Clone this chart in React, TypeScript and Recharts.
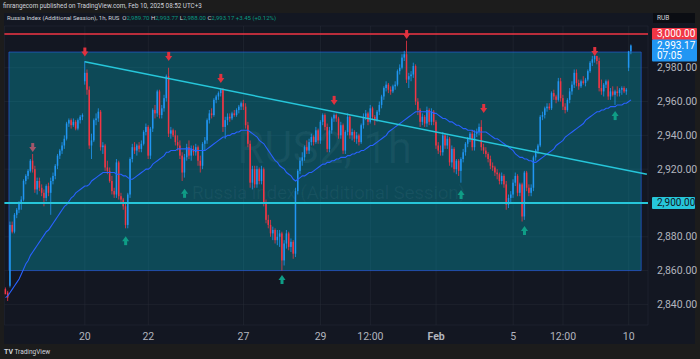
import React from "react";
import {
  ComposedChart,
  Bar,
  Line,
  XAxis,
  YAxis,
  CartesianGrid,
  ReferenceLine,
  ReferenceArea,
  ReferenceDot,
} from "recharts";

// [open, high, low, close, moving average] per 1h bar
type Candle = [number, number, number, number, number];

const jan16_17: Candle[] = [
  [2849, 2850, 2846, 2846, 2844], [2847, 2848, 2842, 2844, 2845], [2851, 2889, 2850, 2887, 2847],
  [2887, 2889, 2882, 2883, 2849], [2883, 2894, 2882, 2893, 2851], [2893, 2897, 2891, 2896, 2853],
  [2896, 2901, 2894, 2900, 2855], [2900, 2904, 2896, 2902, 2858], [2902, 2914, 2901, 2913, 2861],
  [2913, 2917, 2911, 2916, 2864], [2916, 2920, 2914, 2919, 2866], [2919, 2926, 2918, 2925, 2869],
  [2925, 2929, 2918, 2920, 2871], [2920, 2922, 2906, 2908, 2873], [2908, 2915, 2905, 2913, 2875],
  [2913, 2915, 2907, 2909, 2877], [2909, 2911, 2904, 2906, 2879], [2906, 2908, 2898, 2903, 2881],
  [2903, 2911, 2901, 2910, 2883], [2910, 2912, 2904, 2906, 2884], [2906, 2915, 2893, 2913, 2886],
  [2913, 2918, 2911, 2916, 2888], [2916, 2923, 2914, 2922, 2890], [2922, 2929, 2920, 2928, 2892],
  [2928, 2932, 2926, 2931, 2894], [2931, 2936, 2929, 2934, 2896], [2934, 2940, 2932, 2938, 2898],
  [2938, 2948, 2937, 2947, 2899], [2947, 2950, 2945, 2949, 2901], [2949, 2950, 2944, 2946, 2903],
  [2946, 2950, 2945, 2948, 2904], [2948, 2949, 2943, 2944, 2906], [2944, 2950, 2943, 2949, 2907],
  [2949, 2952, 2947, 2951, 2908], [2951, 2953, 2949, 2952, 2909],
];

const jan20: Candle[] = [
  [2972, 2984, 2970, 2977, 2910], [2977, 2979, 2964, 2967, 2910], [2967, 2969, 2932, 2934, 2911],
  [2934, 2941, 2926, 2937, 2913], [2937, 2950, 2936, 2949, 2914], [2949, 2953, 2946, 2950, 2915],
  [2950, 2956, 2948, 2954, 2916], [2954, 2955, 2931, 2933, 2917], [2933, 2936, 2929, 2934, 2918],
  [2934, 2935, 2919, 2921, 2918], [2921, 2925, 2917, 2919, 2918], [2919, 2921, 2912, 2913, 2918],
  [2913, 2916, 2905, 2907, 2918], [2907, 2909, 2903, 2905, 2918],
];

const jan21: Candle[] = [
  [2905, 2926, 2903, 2924, 2917], [2924, 2925, 2902, 2904, 2917], [2904, 2906, 2900, 2902, 2917],
  [2902, 2903, 2896, 2898, 2916], [2898, 2900, 2885, 2887, 2916], [2887, 2906, 2885, 2905, 2915],
  [2905, 2927, 2903, 2926, 2914], [2926, 2935, 2924, 2933, 2914], [2933, 2936, 2929, 2931, 2915],
  [2931, 2935, 2928, 2934, 2916], [2934, 2936, 2930, 2932, 2917], [2932, 2937, 2930, 2935, 2918],
  [2935, 2943, 2934, 2942, 2919], [2942, 2947, 2940, 2945, 2920],
];

const jan22: Candle[] = [
  [2945, 2946, 2926, 2928, 2920], [2928, 2945, 2926, 2944, 2921], [2944, 2956, 2942, 2955, 2923],
  [2955, 2958, 2950, 2953, 2924], [2953, 2967, 2951, 2966, 2925], [2966, 2967, 2950, 2952, 2926],
  [2952, 2958, 2950, 2956, 2927], [2956, 2964, 2954, 2962, 2928], [2962, 2976, 2960, 2975, 2930],
  [2975, 2980, 2939, 2941, 2930], [2941, 2945, 2938, 2943, 2931], [2943, 2944, 2939, 2940, 2931],
  [2940, 2943, 2934, 2936, 2931], [2936, 2940, 2931, 2934, 2932],
];

const jan23: Candle[] = [
  [2934, 2937, 2926, 2928, 2932], [2928, 2930, 2913, 2918, 2932], [2918, 2929, 2915, 2927, 2932],
  [2927, 2935, 2925, 2933, 2932], [2933, 2937, 2926, 2928, 2932], [2928, 2934, 2925, 2932, 2932],
  [2932, 2934, 2928, 2930, 2931], [2930, 2935, 2928, 2933, 2931], [2933, 2934, 2922, 2925, 2931],
  [2925, 2928, 2918, 2922, 2931], [2922, 2936, 2920, 2935, 2931], [2935, 2939, 2931, 2937, 2931],
  [2937, 2950, 2935, 2949, 2932], [2949, 2955, 2947, 2953, 2933],
];

const jan24: Candle[] = [
  [2953, 2956, 2950, 2952, 2934], [2952, 2962, 2951, 2961, 2935], [2961, 2964, 2959, 2963, 2936],
  [2963, 2966, 2961, 2965, 2937], [2965, 2968, 2963, 2967, 2938], [2967, 2968, 2942, 2945, 2939],
  [2945, 2951, 2938, 2949, 2939], [2949, 2953, 2946, 2951, 2940], [2951, 2953, 2948, 2950, 2940],
  [2950, 2954, 2949, 2953, 2941], [2953, 2955, 2951, 2952, 2941], [2952, 2956, 2951, 2955, 2942],
  [2955, 2958, 2953, 2957, 2942], [2957, 2960, 2955, 2959, 2943],
];

const jan27: Candle[] = [
  [2959, 2961, 2955, 2957, 2943], [2957, 2959, 2944, 2946, 2943], [2946, 2948, 2933, 2935, 2943],
  [2935, 2937, 2909, 2912, 2942], [2912, 2922, 2908, 2920, 2941], [2920, 2922, 2909, 2911, 2940],
  [2911, 2922, 2909, 2920, 2939], [2920, 2921, 2911, 2913, 2937], [2913, 2922, 2911, 2920, 2936],
  [2920, 2921, 2898, 2900, 2935], [2900, 2902, 2888, 2890, 2933], [2890, 2893, 2885, 2887, 2931],
  [2887, 2890, 2880, 2882, 2929], [2882, 2886, 2878, 2884, 2927], [2884, 2885, 2876, 2878, 2925],
  [2878, 2884, 2875, 2880, 2924], [2880, 2884, 2874, 2882, 2922],
];

const jan28: Candle[] = [
  [2882, 2883, 2860, 2866, 2921], [2866, 2878, 2863, 2876, 2920], [2876, 2884, 2873, 2882, 2918],
  [2882, 2883, 2872, 2874, 2917], [2874, 2879, 2871, 2877, 2916], [2877, 2878, 2867, 2870, 2914],
  [2870, 2909, 2868, 2907, 2913], [2907, 2920, 2905, 2919, 2914], [2919, 2927, 2917, 2925, 2915],
  [2925, 2930, 2922, 2927, 2916], [2927, 2934, 2925, 2933, 2916], [2933, 2937, 2929, 2931, 2917],
  [2931, 2938, 2929, 2936, 2918], [2936, 2941, 2934, 2939, 2918], [2939, 2940, 2934, 2936, 2919],
  [2936, 2945, 2935, 2943, 2920], [2943, 2944, 2935, 2937, 2921],
];

const jan29: Candle[] = [
  [2937, 2949, 2935, 2948, 2922], [2948, 2953, 2946, 2952, 2923], [2952, 2953, 2943, 2945, 2923],
  [2945, 2947, 2930, 2932, 2924], [2932, 2945, 2930, 2943, 2924], [2943, 2951, 2941, 2950, 2925],
  [2950, 2953, 2948, 2952, 2925], [2952, 2953, 2948, 2950, 2926], [2950, 2951, 2938, 2940, 2926],
  [2940, 2948, 2938, 2946, 2927], [2946, 2947, 2929, 2931, 2927], [2931, 2943, 2929, 2942, 2927],
  [2942, 2953, 2940, 2951, 2928], [2951, 2952, 2938, 2940, 2928], [2940, 2944, 2937, 2942, 2929],
  [2942, 2943, 2936, 2938, 2929], [2938, 2942, 2935, 2940, 2930],
];

const jan30: Candle[] = [
  [2940, 2941, 2934, 2936, 2930], [2936, 2947, 2935, 2946, 2931], [2946, 2953, 2944, 2951, 2931],
  [2951, 2955, 2949, 2953, 2932], [2953, 2954, 2946, 2948, 2933], [2948, 2958, 2947, 2956, 2934],
  [2956, 2957, 2949, 2951, 2934], [2951, 2952, 2946, 2949, 2935], [2949, 2955, 2948, 2954, 2936],
  [2954, 2960, 2952, 2958, 2937], [2958, 2964, 2956, 2963, 2938], [2963, 2969, 2961, 2968, 2939],
  [2968, 2972, 2966, 2970, 2940], [2970, 2971, 2965, 2967, 2942], [2967, 2969, 2964, 2966, 2943],
  [2966, 2970, 2965, 2969, 2944], [2969, 2972, 2967, 2970, 2945],
];

const jan31: Candle[] = [
  [2970, 2979, 2969, 2978, 2946], [2978, 2982, 2976, 2980, 2947], [2980, 2988, 2979, 2986, 2948],
  [2986, 2990, 2984, 2988, 2949], [2988, 2996, 2971, 2973, 2950], [2973, 2977, 2968, 2975, 2951],
  [2975, 2978, 2972, 2976, 2952], [2976, 2983, 2974, 2981, 2953], [2981, 2982, 2958, 2960, 2954],
  [2960, 2962, 2952, 2955, 2954], [2955, 2956, 2945, 2948, 2954], [2948, 2953, 2946, 2951, 2954],
  [2951, 2952, 2945, 2947, 2954], [2947, 2957, 2945, 2955, 2954], [2955, 2956, 2946, 2948, 2954],
  [2948, 2956, 2946, 2954, 2954], [2954, 2955, 2946, 2948, 2953],
];

const feb3: Candle[] = [
  [2948, 2949, 2932, 2934, 2953], [2934, 2936, 2929, 2931, 2952], [2931, 2934, 2928, 2930, 2951],
  [2930, 2942, 2928, 2940, 2950], [2940, 2941, 2932, 2934, 2950], [2934, 2940, 2932, 2938, 2949],
  [2938, 2939, 2922, 2924, 2948], [2924, 2934, 2921, 2932, 2948], [2932, 2933, 2918, 2920, 2947],
  [2920, 2926, 2917, 2925, 2946], [2925, 2926, 2916, 2919, 2946], [2919, 2927, 2912, 2926, 2945],
  [2926, 2932, 2924, 2930, 2944], [2930, 2936, 2928, 2935, 2944], [2935, 2939, 2933, 2938, 2943],
  [2938, 2942, 2936, 2941, 2943], [2941, 2943, 2931, 2933, 2943],
];

const feb4: Candle[] = [
  [2933, 2943, 2931, 2941, 2942], [2941, 2944, 2939, 2942, 2942], [2942, 2947, 2940, 2945, 2942],
  [2945, 2949, 2931, 2933, 2942], [2933, 2935, 2929, 2931, 2942], [2931, 2933, 2927, 2929, 2942],
  [2929, 2930, 2924, 2926, 2941], [2926, 2928, 2920, 2922, 2940], [2922, 2924, 2919, 2921, 2939],
  [2921, 2922, 2916, 2918, 2938], [2918, 2920, 2914, 2917, 2938], [2917, 2918, 2911, 2913, 2937],
  [2913, 2918, 2911, 2916, 2936], [2916, 2917, 2909, 2911, 2935], [2911, 2913, 2896, 2899, 2934],
  [2899, 2905, 2897, 2903, 2933], [2903, 2907, 2900, 2905, 2932],
];

const feb5: Candle[] = [
  [2905, 2914, 2903, 2912, 2931], [2912, 2918, 2910, 2916, 2929], [2916, 2917, 2904, 2906, 2928],
  [2906, 2912, 2904, 2911, 2927], [2911, 2912, 2889, 2892, 2927], [2892, 2919, 2890, 2918, 2926],
  [2918, 2919, 2907, 2909, 2926], [2909, 2911, 2904, 2906, 2925], [2906, 2911, 2904, 2909, 2925],
  [2909, 2928, 2907, 2927, 2924], [2927, 2932, 2925, 2931, 2924], [2931, 2935, 2929, 2934, 2925],
  [2934, 2952, 2933, 2951, 2926], [2951, 2954, 2949, 2952, 2927], [2952, 2957, 2950, 2956, 2928],
  [2956, 2959, 2954, 2957, 2929], [2957, 2959, 2955, 2956, 2930],
];

const feb6: Candle[] = [
  [2956, 2966, 2955, 2965, 2931], [2965, 2967, 2961, 2963, 2932], [2963, 2964, 2959, 2961, 2934],
  [2961, 2974, 2960, 2972, 2935], [2972, 2974, 2960, 2962, 2936], [2962, 2964, 2955, 2957, 2937],
  [2957, 2959, 2953, 2955, 2939], [2955, 2962, 2954, 2961, 2940], [2961, 2968, 2959, 2966, 2941],
  [2966, 2972, 2964, 2970, 2942], [2970, 2979, 2968, 2977, 2943], [2977, 2979, 2969, 2971, 2944],
  [2971, 2973, 2967, 2969, 2945], [2969, 2973, 2968, 2972, 2946], [2972, 2975, 2970, 2971, 2947],
  [2971, 2974, 2969, 2973, 2949], [2973, 2979, 2972, 2978, 2950],
];

const feb7: Candle[] = [
  [2978, 2984, 2977, 2983, 2951], [2983, 2987, 2981, 2985, 2952], [2985, 2988, 2983, 2987, 2953],
  [2987, 2987, 2982, 2984, 2954], [2984, 2986, 2966, 2968, 2954], [2968, 2973, 2964, 2966, 2955],
  [2966, 2971, 2963, 2970, 2955], [2970, 2973, 2968, 2972, 2956], [2972, 2973, 2961, 2963, 2956],
  [2963, 2968, 2961, 2966, 2957], [2966, 2969, 2963, 2964, 2957], [2964, 2967, 2958, 2966, 2957],
  [2966, 2969, 2963, 2965, 2958], [2965, 2968, 2963, 2967, 2958], [2967, 2969, 2964, 2968, 2958],
  [2968, 2969, 2965, 2966, 2959], [2966, 2968, 2964, 2967, 2959],
];

const feb10: Candle[] = [
  [2980, 2990, 2978, 2989.7, 2960], [2989.7, 2993.77, 2988, 2993.17, 2961],
];

const sessions = [jan16_17, jan20, jan21, jan22, jan23, jan24, jan27, jan28, jan29, jan30, jan31, feb3, feb4, feb5, feb6, feb7, feb10];

// x axis labels sit on these bar indexes
const dayTickIdx = [35, 63, 105, 139, 161, 190, 224, 246, 275];
const dayTickLabels = ["20", "22", "27", "29", "12:00", "Feb", "5", "12:00", "10"];
// 2,900 and 3,000 are shown by their badges instead
const priceTicks = [2840, 2860, 2880, 2920, 2940, 2960, 2980];

const highMarkIdx = [35, 72, 95, 145, 177, 211, 260];
const highMarkPrice = [2989, 2986.4, 2973.4, 2960.4, 2999.4, 2955.6, 2989.3];
const lowMarkIdx = [53, 79, 122, 201, 229, 269];
const lowMarkPrice = [2878, 2906, 2855, 2905.3, 2884, 2952];
const fadedMarkIdx = [12];
const fadedMarkPrice = [2932.5];

const boxFromIdx = 2;
const boxToIdx = 280;
const boxLow = 2860;
const boxHigh = 2989.3;
const trendFrom = { i: 35, p: 2983.5 };
const trendTo = { i: 283, p: 2917 };
const supportLevel = 2900;
const resistanceLevel = 3000;
const lastPrice = 2993.17;
const SLOTS = 284; // bars + empty space on the right

const UP = "#2196f3";
const DOWN = "#f23645";
const CYAN = "#26c6da";
const GREEN = "#089981";
const FONT = "Roboto, 'Liberation Sans', Arial, sans-serif";

const candles = sessions.flat();
const data = Array.from({ length: SLOTS }, (_, i) => {
  const c = candles[i];
  if (!c) return { i };
  return { i, open: c[0], high: c[1], low: c[2], close: c[3], ma: c[4], range: [c[2], c[1]] };
});

const CandleShape = (props: any) => {
  const { x, y, width, height, payload } = props;
  if (!payload || payload.open == null || !isFinite(y) || !isFinite(height)) return <g />;
  const { open, high, low, close } = payload;
  const top = Math.min(y, y + height);
  const h = Math.abs(height);
  const span = high - low || 1;
  const py = (p: number) => top + ((high - p) / span) * h;
  const color = close >= open ? UP : DOWN;
  const cx = x + width / 2;
  const bw = Math.max(1, width - 0.5);
  const bTop = py(Math.max(open, close));
  const bBot = py(Math.min(open, close));
  return (
    <g>
      <line x1={cx} x2={cx} y1={top} y2={top + h} stroke={color} strokeWidth={0.8} />
      <rect x={cx - bw / 2} y={bTop} width={bw} height={Math.max(0.8, bBot - bTop)} fill={color} />
    </g>
  );
};

const arrowDown = (color: string) => (p: any) => {
  const { cx, cy } = p;
  return (
    <g fill={color}>
      <rect x={cx - 1.5} y={cy - 5} width={3} height={4.5} />
      <polygon points={`${cx - 3.5},${cy - 1} ${cx + 3.5},${cy - 1} ${cx},${cy + 4}`} />
    </g>
  );
};

const arrowUp = (color: string) => (p: any) => {
  const { cx, cy } = p;
  return (
    <g fill={color}>
      <rect x={cx - 1.5} y={cy + 0.5} width={3} height={4.5} />
      <polygon points={`${cx - 3.5},${cy + 1} ${cx + 3.5},${cy + 1} ${cx},${cy - 4}`} />
    </g>
  );
};

const DayTick = (props: any) => {
  const { x, y, payload } = props;
  const k = dayTickIdx.indexOf(payload.value);
  const label = k >= 0 ? dayTickLabels[k] : "";
  return (
    <text x={x} y={y + 13} textAnchor="middle" fill="#b2b5be" fontSize={10.5} fontFamily={FONT}
      fontWeight={label === "Feb" ? 700 : 400}>
      {label}
    </text>
  );
};

const fmt = (v: number) => v.toLocaleString("en-US", { minimumFractionDigits: 2, maximumFractionDigits: 2 });

const badge = (lines: string[], bg: string, fg: string, w: number) => (props: any) => {
  const vb = props.viewBox || props;
  const bx = vb.x + vb.width + 4;
  const cy = vb.y;
  const h = 12 + (lines.length - 1) * 10;
  return (
    <g>
      <rect x={bx} y={cy - 6} width={w} height={h} fill={bg} rx={1} />
      {lines.map((t, k) => (
        <text key={k} x={bx + 5} y={cy + k * 10.5} dy={3.4} fill={fg} fontSize={10} fontFamily={FONT}>
          {t}
        </text>
      ))}
    </g>
  );
};

const legendParts: [string, string][] = [
  ["Russia Index (Additional Session), 1h, RUS  ", "#d1d4dc"],
  ["O", "#d1d4dc"], ["2,989.70 ", GREEN],
  ["H", "#d1d4dc"], ["2,993.77 ", GREEN],
  ["L", "#d1d4dc"], ["2,988.00 ", GREEN],
  ["C", "#d1d4dc"], ["2,993.17 ", GREEN],
  ["+3.45 (+0.12%)", GREEN],
];

export default function App() {
  return (
    <div style={{ position: "fixed", left: 0, top: 0, width: 700, height: 359, background: "#1c1c1c", overflow: "hidden", fontFamily: FONT }}>
      <div style={{ position: "absolute", left: 3, top: 2, fontSize: 6.3, color: "#d1d4dc", whiteSpace: "nowrap" }}>
        finrangecom published on TradingView.com, Feb 10, 2025 08:52 UTC+3
      </div>
      <div style={{ position: "absolute", left: 4, top: 13, width: 691, height: 331, background: "#131722" }} />
      <div style={{ position: "absolute", left: 7, top: 14, fontSize: 6, whiteSpace: "pre", lineHeight: "7px" }}>
        {legendParts.map(([t, c], k) => (
          <span key={k} style={{ color: c }}>{t}</span>
        ))}
      </div>
      <div style={{ position: "absolute", left: 653, top: 13, width: 42, height: 10, background: "#0b0d13", color: "#d1d4dc", fontSize: 6.5, lineHeight: "10px", paddingLeft: 4, boxSizing: "border-box" }}>
        RUB
      </div>
      <svg width={700} height={359} style={{ position: "absolute", left: 0, top: 0 }}>
        <text x={412} y={163} textAnchor="end" fontSize={44} fontFamily={FONT} fill="#ffffff" fillOpacity={0.06}>
          RUS2, 1h
        </text>
        <text x={192} y={199} fontSize={19} textLength={273} fontFamily={FONT} fill="#ffffff" fillOpacity={0.06}>
          Russia Index (Additional Session)
        </text>
      </svg>
      <ComposedChart
        width={700}
        height={359}
        data={data}
        margin={{ top: 26, right: 0, bottom: 15, left: 4.4 }}
        barCategoryGap={0}
        barGap={0}
        style={{ position: "absolute", left: 0, top: 0 }}
      >
        <CartesianGrid stroke="#2a2e39" strokeOpacity={0.45} />
        <XAxis
          dataKey="i"
          type="category"
          ticks={dayTickIdx}
          interval={0}
          tick={<DayTick />}
          axisLine={false}
          tickLine={false}
          tickSize={0}
          height={19}
        />
        <YAxis
          orientation="right"
          width={52}
          domain={[2827.8, 3004.7]}
          allowDataOverflow
          ticks={priceTicks}
          tickFormatter={fmt}
          axisLine={false}
          tickLine={false}
          tickSize={0}
          tickMargin={9}
          tick={{ fill: "#b2b5be", fontSize: 10.5, fontFamily: FONT }}
        />
        <ReferenceArea
          x1={boxFromIdx}
          x2={boxToIdx}
          y1={boxLow}
          y2={boxHigh}
          fill="#00bcd4"
          fillOpacity={0.3}
          stroke="#2962ff"
          strokeOpacity={0.55}
        />
        <Line dataKey="ma" stroke="#2962ff" strokeWidth={1.1} dot={false} activeDot={false} isAnimationActive={false} />
        <Bar dataKey="range" shape={<CandleShape />} isAnimationActive={false} />
        <ReferenceLine
          segment={[{ x: trendFrom.i, y: trendFrom.p }, { x: trendTo.i, y: trendTo.p }]}
          stroke={CYAN}
          strokeWidth={1.5}
        />
        <ReferenceLine y={supportLevel} stroke={CYAN} strokeWidth={2} label={badge([fmt(supportLevel)], CYAN, "#131722", 43)} />
        <ReferenceLine y={resistanceLevel} stroke={DOWN} strokeWidth={1.5} label={badge([fmt(resistanceLevel)], DOWN, "#ffffff", 45)} />
        <ReferenceLine y={lastPrice} stroke="none" strokeOpacity={0} label={badge([fmt(lastPrice), "07:05"], UP, "#ffffff", 45)} />
        {highMarkIdx.map((ix, k) => (
          <ReferenceDot key={`h${k}`} x={ix} y={highMarkPrice[k]} r={3} shape={arrowDown("#e0323f")} />
        ))}
        {fadedMarkIdx.map((ix, k) => (
          <ReferenceDot key={`f${k}`} x={ix} y={fadedMarkPrice[k]} r={3} shape={arrowDown("#a3566a")} />
        ))}
        {lowMarkIdx.map((ix, k) => (
          <ReferenceDot key={`l${k}`} x={ix} y={lowMarkPrice[k]} r={3} shape={arrowUp("#0f9d86")} />
        ))}
      </ComposedChart>
      <div style={{ position: "absolute", left: 4, top: 348, fontSize: 6.5, color: "#d1d4dc", whiteSpace: "nowrap" }}>
        <b style={{ fontSize: 7 }}>TV</b> TradingView
      </div>
    </div>
  );
}
